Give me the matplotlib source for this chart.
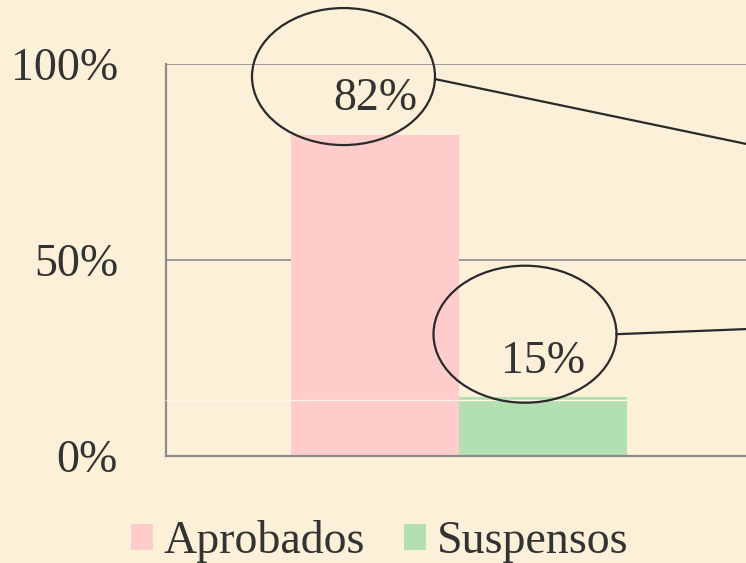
import matplotlib
matplotlib.use("Agg")
import matplotlib.pyplot as plt
from matplotlib.patches import Ellipse

# ---- data ----
series = ["Aprobados", "Suspensos"]
values = [82, 15]
value_labels = ["82%", "15%"]
yticks = [0, 50, 100]
ytick_labels = ["0%", "50%", "100%"]
seam_level = 14.3

colors = ["#FFCCCC", "#B3E0B3"]
bg = "#FCF0D8"
text_color = "#333333"
font = ["Liberation Serif", "DejaVu Serif"]
fs = 33

W, H = 746, 563
fig = plt.figure(figsize=(W / 100, H / 100), dpi=100, facecolor=bg)

# axes: left 166px, right 752px, bottom(0%) y=456, top(100%) y=64
ax = fig.add_axes([166 / W, (H - 456) / H, (752 - 166) / W, (456 - 64) / H])
ax.set_facecolor(bg)
ax.patch.set_alpha(0)

xpos = list(range(len(series)))
bars = ax.bar(xpos, values, width=1.0, color=colors, zorder=2)
ax.set_xlim(-1.244, 2.244)
ax.set_ylim(0, 100)

ax.set_yticks(yticks)
ax.set_yticklabels(ytick_labels, fontfamily=font, fontsize=fs, color=text_color)
ax.set_xticks([])
ax.tick_params(axis="y", length=0, pad=34.5)
for y in yticks[1:]:
    ax.axhline(y, color="#8C8C8C", lw=1.2, zorder=1)
for s in ["top", "right"]:
    ax.spines[s].set_visible(False)
for s in ["left", "bottom"]:
    ax.spines[s].set_color("#8C8C8C")
    ax.spines[s].set_linewidth(1.6)
    ax.spines[s].set_zorder(3)

# seam artifact line
ax.plot([-1.244, 1.5], [seam_level, seam_level], color="#FFF6E4", lw=1.0,
        zorder=4, clip_on=False)

# px -> data scales
xs = 168.0  # px per x unit
ys = 3.92   # px per %

# callout ellipses (offsets in px relative to bar top center)
ell_dx = [-31.5, -18]
ell_dy = [58, 63]
line_end = [(900, 176), (900, 323)]
for i, (x, v) in enumerate(zip(xpos, values)):
    cx = x + ell_dx[i] / xs
    cy = v + ell_dy[i] / ys
    e = Ellipse((cx, cy), 183 / xs, 137 / ys, fill=False, ec="#2A2A2A",
                lw=1.6, zorder=5, clip_on=False)
    ax.add_patch(e)
    rx = cx + 91.5 / xs
    ry = cy + (-2.5 if i == 0 else 0) / ys
    ex = (line_end[i][0] - 375) / xs
    ey = (456 - line_end[i][1]) / ys
    ax.plot([rx, ex], [ry, ey], color="#2A2A2A", lw=1.6, zorder=5,
            clip_on=False)
    ax.annotate(value_labels[i], (x, v), xytext=(0, 25.5),
                textcoords="offset points", ha="center", va="center",
                fontfamily=font, fontsize=fs, color=text_color, zorder=6)

leg = fig.legend(bars, series, loc="lower left",
                 bbox_to_anchor=(131 / W, 0.0), ncol=2, frameon=False,
                 prop={"family": font, "size": fs}, handlelength=0.48,
                 handleheight=0.5, handletextpad=0.23, columnspacing=0.85,
                 borderaxespad=0.0, borderpad=0.0)
for t in leg.get_texts():
    t.set_color(text_color)

fig.savefig("out.png", dpi=100, facecolor=bg)
